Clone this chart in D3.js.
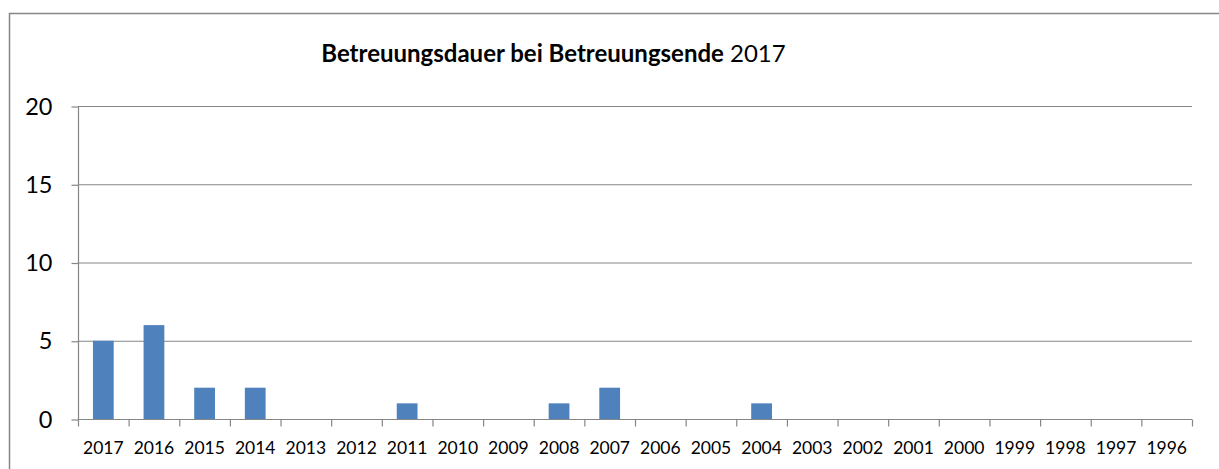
<!DOCTYPE html>
<html><head><meta charset="utf-8">
<script src="https://d3js.org/d3.v7.min.js"></script>
<style>body{margin:0;background:#fff}svg{display:block}</style>
</head><body>
<script>
const categories = ["2017","2016","2015","2014","2013","2012","2011","2010","2009","2008","2007","2006","2005","2004","2003","2002","2001","2000","1999","1998","1997","1996"];
const values = [5,6,2,2,0,0,1,0,0,1,2,0,0,1,0,0,0,0,0,0,0,0];
const yTicks = [0,5,10,15,20];
const titleBold = "Betreuungsdauer bei Betreuungsende";
const titleRest = " 2017";

const W = 1219, H = 469;
const font = "Lato, 'Open Sans', sans-serif";
const svg = d3.select("body").append("svg").attr("width", W).attr("height", H);

svg.append("rect").attr("x", 9.5).attr("y", 13.5).attr("width", 1250).attr("height", 500)
  .attr("fill", "#fff").attr("stroke", "#868686").attr("stroke-width", 1.5);

const m = {left: 78, right: 1192, top: 106, bottom: 419};
const x = d3.scaleBand().domain(categories).range([m.left, m.right]).paddingInner(0.59).paddingOuter(0.295);
const xb = d3.scaleBand().domain(categories).range([m.left, m.right]);
const y = d3.scaleLinear().domain([0, 20]).range([m.bottom, m.top]);

// gridlines
svg.append("g").selectAll("line").data(yTicks.filter(d => d > 0)).join("line")
  .attr("x1", m.left).attr("x2", m.right)
  .attr("y1", d => y(d) + 0.5).attr("y2", d => y(d) + 0.5)
  .attr("stroke", "#868686").attr("stroke-width", 1.2);

// bars
svg.append("g").selectAll("rect").data(values.map((v, i) => ({c: categories[i], v})).filter(d => d.v > 0)).join("rect")
  .attr("x", d => x(d.c)).attr("width", x.bandwidth())
  .attr("y", d => y(d.v)).attr("height", d => y(0) - y(d.v))
  .attr("fill", "#4F81BD");

// y axis
const yAxis = d3.axisLeft(y).tickValues(yTicks).tickSize(7).tickPadding(19).tickFormat(d3.format("d"));
const gy = svg.append("g").attr("transform", `translate(${m.left + 0.5},0.5)`).call(yAxis);
gy.select(".domain").attr("stroke", "#868686").attr("stroke-width", 1.2).attr("d", `M0,${m.top}V${m.bottom}`);
gy.selectAll(".tick line").attr("stroke", "#868686").attr("stroke-width", 1.2);
gy.selectAll(".tick text").attr("font-family", font).attr("font-size", 23.5).attr("fill", "#000");

// x axis
const gx = svg.append("g").attr("transform", `translate(0,${m.bottom + 0.5})`);
gx.append("line").attr("x1", m.left).attr("x2", m.right).attr("stroke", "#868686").attr("stroke-width", 1.2);
const edges = categories.map(c => xb(c)).concat([m.right]);
gx.selectAll("line.tk").data(edges).join("line").attr("class", "tk")
  .attr("x1", d => d + 0.5).attr("x2", d => d + 0.5).attr("y1", 0).attr("y2", 7)
  .attr("stroke", "#868686").attr("stroke-width", 1.2);
gx.selectAll("text").data(categories).join("text")
  .attr("x", d => xb(d) + xb.bandwidth() / 2).attr("y", 34)
  .attr("text-anchor", "middle").attr("font-family", font).attr("font-size", 17.5).attr("fill", "#000")
  .text(d => d);

// title
const t = svg.append("text").attr("x", 553.5).attr("y", 62).attr("text-anchor", "middle")
  .attr("font-family", font).attr("font-size", 24).attr("fill", "#000");
t.append("tspan").attr("font-weight", "bold").text(titleBold);
t.append("tspan").text(titleRest);
</script>
</body></html>
